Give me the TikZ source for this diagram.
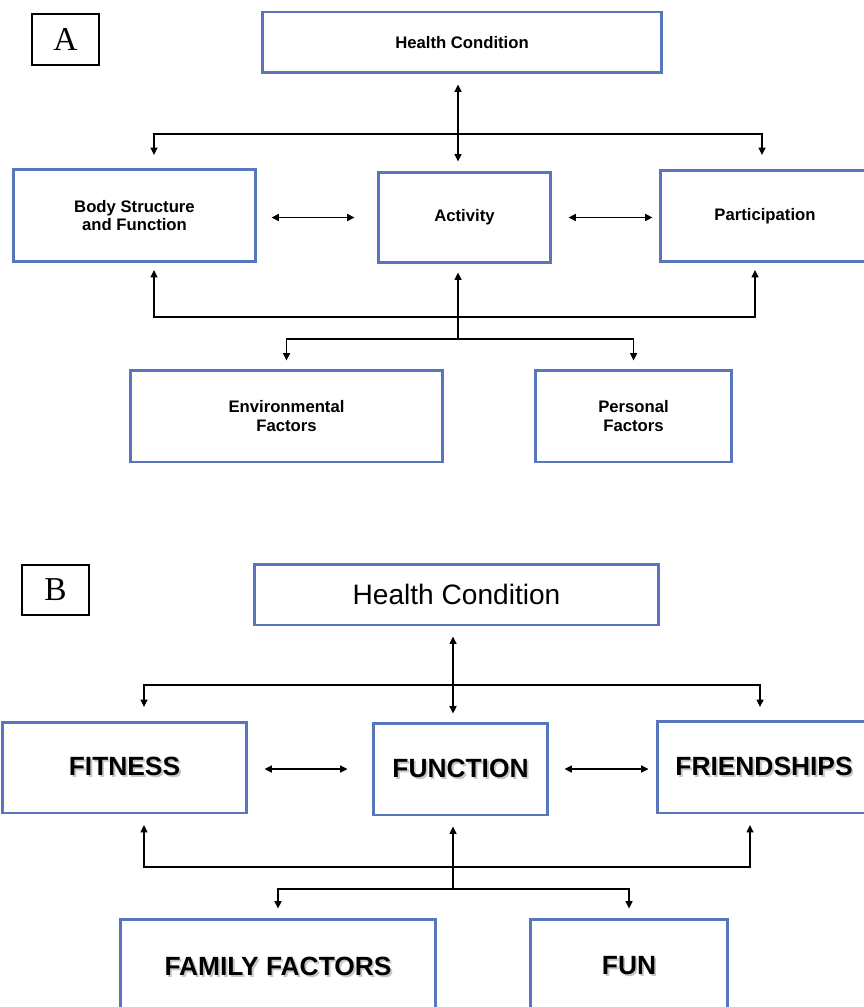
\documentclass[tikz,border=0pt]{standalone}
\usepackage{fontspec}
\setmainfont{Liberation Serif}
\newfontfamily\arialfont{Liberation Sans}
\usetikzlibrary{arrows.meta}
\definecolor{boxblue}{RGB}{88,118,190}
\newcommand\shadowtxt[1]{\makebox[0pt][l]{\hspace{1.1pt}\raisebox{-1.1pt}{\textcolor{black!22}{#1}}}#1}

\begin{document}
\begin{tikzpicture}[x=0.02cm,y=-0.02cm,
  box/.style={draw=boxblue,line width=1.7pt,inner sep=0pt,align=center},
  tag/.style={draw,line width=0.9pt,inner sep=0pt,font=\fontsize{19}{19}\selectfont},
  small/.style={font=\arialfont\bfseries\fontsize{9.5}{10.5}\selectfont},
  big/.style={font=\arialfont\bfseries\fontsize{15}{17}\selectfont},
  link/.style={line width=0.7pt},
  arr/.style={link,-{Triangle[length=4.2pt,width=4pt]}},
  dbl/.style={link,{Triangle[length=4.2pt,width=4pt]}-{Triangle[length=4.2pt,width=4pt]}}]

\useasboundingbox (0,0) rectangle (863,1007);

\node[tag,minimum width=1.34cm,minimum height=1.02cm] (labA) at (65.5,39.5) {A};
\node[box,small,minimum width=8cm,minimum height=1.22cm] (hcA) at (462,42.5) {Health Condition};
\node[box,small,minimum width=4.86cm,minimum height=1.86cm] (bodyA) at (134.5,215.5) {Body Structure\\and Function};
\node[box,small,minimum width=3.46cm,minimum height=1.82cm] (actA) at (464.5,217.5) {Activity};
\node[box,small,minimum width=4.2cm,minimum height=1.84cm] (partA) at (765,216) {Participation};
\node[box,small,minimum width=6.26cm,minimum height=1.84cm] (envA) at (286.5,416) {Environmental\\Factors};
\node[box,small,minimum width=3.94cm,minimum height=1.84cm] (persA) at (633.5,416) {Personal\\Factors};

\coordinate (jA) at (458,134);
\coordinate (tlA) at (154,155);
\coordinate (trA) at (762,155);
\coordinate (mA) at (458,317);
\coordinate (ulA) at (154,270);
\coordinate (urA) at (755,270);
\coordinate (bA) at (458,339);

\draw[dbl,shorten <=0.2cm,shorten >=0.18cm] (hcA.south -| jA) -- (actA.north -| jA);
\draw[arr] (jA) -| (tlA);
\draw[arr] (jA) -| (trA);
\draw[dbl,shorten <=0.28cm,shorten >=0.44cm] (actA.west -| bodyA.east) -- (actA.west);
\draw[dbl,shorten <=0.32cm,shorten >=0.12cm] (actA.east) -- (actA.east -| partA.west);
\draw[arr] (mA) -| (ulA);
\draw[arr] (mA) -| (urA);
\draw[arr,shorten >=0.16cm] (bA) -- (actA.south -| bA);
\draw[arr,shorten >=0.16cm] (bA) -| (envA.north);
\draw[arr,shorten >=0.16cm] (bA) -| (persA.north);

\node[tag,minimum width=1.34cm,minimum height=1cm] (labB) at (55.5,590) {B};
\node[box,font=\arialfont\fontsize{16}{18}\selectfont,minimum width=8.1cm,minimum height=1.22cm] (hcB) at (456.5,594.5) {Health Condition};
\node[box,big,minimum width=4.9cm,minimum height=1.82cm] (fitB) at (124.5,767.5) {\shadowtxt{FITNESS}};
\node[box,big,minimum width=3.5cm,minimum height=1.84cm] (funcB) at (460.5,769) {\shadowtxt{FUNCTION}};
\node[box,big,minimum width=4.28cm,minimum height=1.84cm] (friB) at (764,767) {\shadowtxt{FRIENDSHIPS}};
\node[box,big,minimum width=6.32cm,minimum height=1.92cm] (famB) at (278,967) {\shadowtxt{FAMILY FACTORS}};
\node[box,big,minimum width=3.96cm,minimum height=1.92cm] (funB) at (629,967) {\shadowtxt{FUN}};

\coordinate (jB) at (453,685);
\coordinate (tlB) at (144,707);
\coordinate (trB) at (760,707);
\coordinate (mB) at (453,867);
\coordinate (ulB) at (144,825);
\coordinate (urB) at (750,825);
\coordinate (bB) at (453,889);

\draw[dbl,shorten <=0.2cm,shorten >=0.16cm] (hcB.south -| jB) -- (funcB.north -| jB);
\draw[arr] (jB) -| (tlB);
\draw[arr] (jB) -| (trB);
\draw[dbl,shorten <=0.32cm,shorten >=0.48cm] (funcB.west -| fitB.east) -- (funcB.west);
\draw[dbl,shorten <=0.3cm,shorten >=0.14cm] (funcB.east) -- (funcB.east -| friB.west);
\draw[arr] (mB) -| (ulB);
\draw[arr] (mB) -| (urB);
\draw[arr,shorten >=0.2cm] (bB) -- (funcB.south -| bB);
\draw[arr,shorten >=0.18cm] (bB) -| (famB.north);
\draw[arr,shorten >=0.18cm] (bB) -| (funB.north);
\end{tikzpicture}
\end{document}
